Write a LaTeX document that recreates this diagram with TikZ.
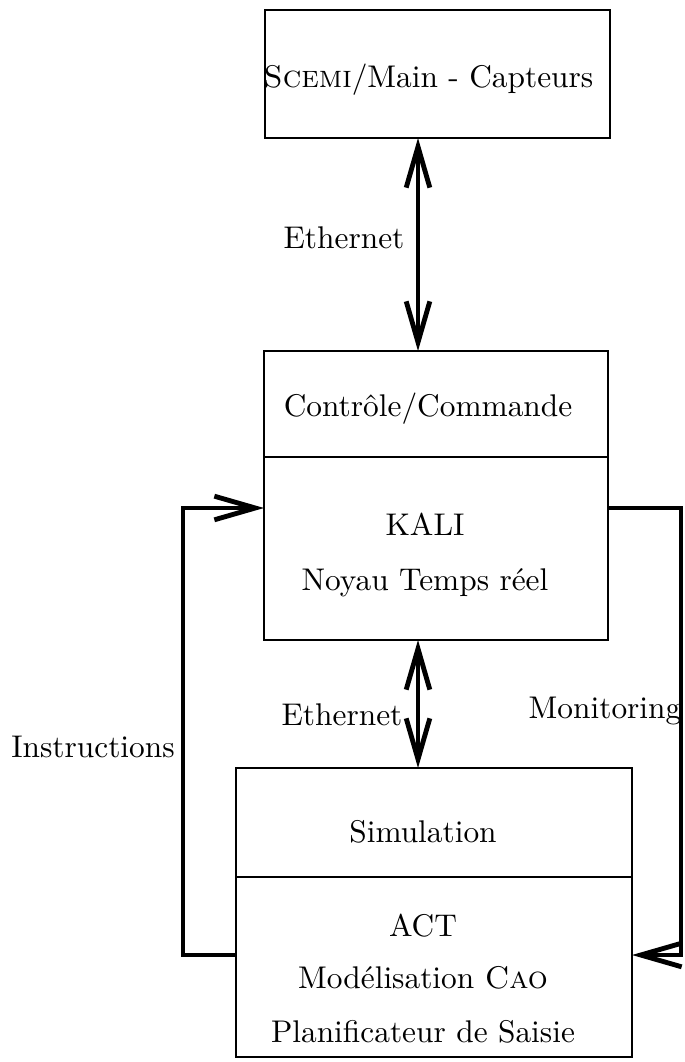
\documentclass[tikz,border=0pt]{standalone}
\usetikzlibrary{arrows.meta}
\tikzset{
  box/.style={draw, line width=0.6pt, inner sep=0pt, outer sep=0pt},
  lbl/.style={anchor=base, inner sep=0pt, font=\fontsize{10.35}{12.4}\selectfont},
  link/.style={line width=1.6pt},
  barbtip/.tip={Straight Barb[length=13.5pt, width=7.8pt]}
}
\begin{document}
\begin{tikzpicture}[x=0.33pt, y=-0.33pt]
\useasboundingbox (0,0) rectangle (684,1062);
% boxes
\node[box, minimum width=345*0.33pt, minimum height=128*0.33pt] (top) at (437.5,74) {};
\node[box, minimum width=344*0.33pt, minimum height=289*0.33pt] (mid) at (436,495.5) {};
\node[box, minimum width=396*0.33pt, minimum height=289*0.33pt] (bot) at (434,912.5) {};
% dividers
\coordinate (md) at (0,457);
\coordinate (bd) at (0,877);
\draw[line width=0.6pt] (mid.west |- md) -- (mid.east |- md);
\draw[line width=0.6pt] (bot.west |- bd) -- (bot.east |- bd);
% texts
\node[lbl] (t1) at (428.5,88) {\textsc{Scemi}/Main - Capteurs};
\node[lbl] (e1) at (344,249) {Ethernet};
\node[lbl] (t2) at (428,417) {Contr\^ole/Commande};
\node[lbl] (t3) at (425,535) {KALI};
\node[lbl] (t4) at (425,590) {Noyau Temps r\'eel};
\node[lbl] (e2) at (342,725) {Ethernet};
\node[lbl] (ins) at (93,757) {Instructions};
\node[lbl] (mon) at (605,718) {Monitoring};
\node[lbl] (t5) at (423,842) {Simulation};
\node[lbl] (t6) at (423,936) {ACT};
\node[lbl] (t7) at (423,988) {Mod\'elisation \textsc{Cao}};
\node[lbl] (t8) at (423,1042) {Planificateur de Saisie};
% connectors
\coordinate (ax) at (418,0);
\coordinate (hy) at (0,508);
\coordinate (ly) at (0,955);
\coordinate (lx) at (183,0);
\coordinate (rx) at (681,0);
\draw[link, barbtip-barbtip] (top.south -| ax) -- (mid.north -| ax);
\draw[link, barbtip-barbtip] (mid.south -| ax) -- (bot.north -| ax);
\draw[link, -barbtip] (bot.west |- ly) -| (lx |- hy) -- (mid.west |- hy);
\draw[link, -barbtip] (mid.east |- hy) -| (rx |- ly) -- (bot.east |- ly);
\end{tikzpicture}
\end{document}
